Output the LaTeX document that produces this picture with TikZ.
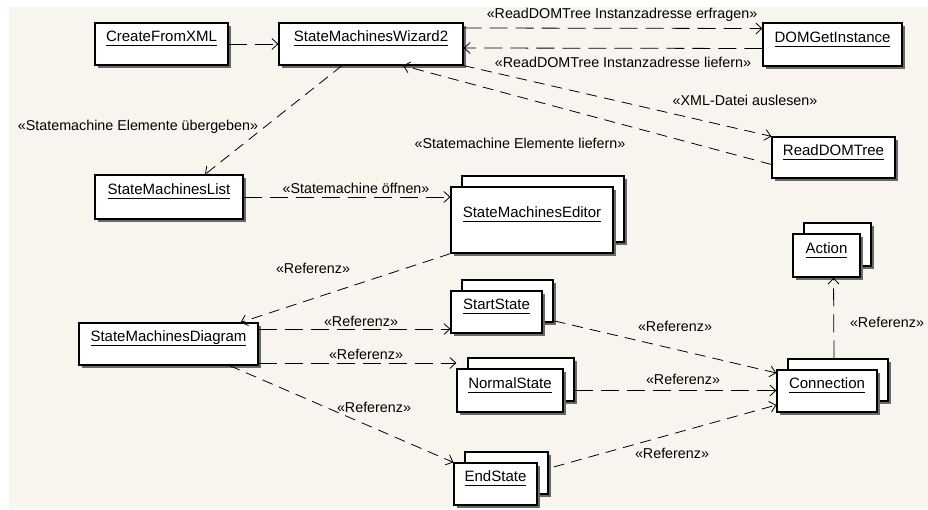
\documentclass[tikz,border=0pt]{standalone}
\usepackage{fontspec}
\setmainfont{Liberation Sans}
\usetikzlibrary{positioning}
\usetikzlibrary{arrows.meta}
\usetikzlibrary{shadows}

\definecolor{paper}{RGB}{247,245,237}
\definecolor{shade}{RGB}{105,105,105}

\newcommand{\objname}[1]{\underline{\smash{#1}\rule[-2.5pt]{0pt}{2.5pt}}}

\tikzset{
    objbox/.style={draw=black, fill=white, line width=1.2pt, inner sep=0pt,
        minimum height=42pt, font=\fontsize{15}{18}\selectfont,
        general shadow={shadow xshift=3pt, shadow yshift=-3pt, fill=shade}},
    multibox/.style={draw=black, fill=white, line width=1.2pt, inner sep=0pt,
        minimum height=42pt, font=\fontsize{15}{18}\selectfont,
        general shadow={shadow xshift=14pt, shadow yshift=8pt, fill=shade},
        general shadow={shadow xshift=11pt, shadow yshift=11pt, draw=black, fill=white, line width=1.2pt},
        general shadow={shadow xshift=3pt, shadow yshift=-3pt, fill=shade}},
    dep/.style={line width=0.8pt, dash pattern=on 11pt off 7pt,
        -{Straight Barb[length=6pt,width=11pt]}},
    longdash/.style={dash pattern=on 18pt off 8pt},
    lbl/.style={font=\fontsize{14.3}{17}\selectfont, inner sep=0pt},
}

\begin{document}
\begin{tikzpicture}[x=1pt, y=-1pt]
    \fill[white] (0,0) rectangle (928,510);
    \fill[paper] (9,7) rectangle (928,508);
    \useasboundingbox (0,0) rectangle (928,510);

    % objects
    \node[objbox, minimum width=133pt] (cfx) at (161.5,44) {\objname{CreateFromXML}};
    \node[objbox, minimum width=184pt] (wiz) at (371,44) {\objname{StateMachinesWizard2}};
    \node[objbox, minimum width=139pt, minimum height=43pt] (dom) at (832.5,44.5) {\objname{DOMGetInstance}};
    \node[objbox, minimum width=123pt, minimum height=41pt] (rdt) at (833.5,157.5) {\objname{ReadDOMTree}};
    \node[objbox, minimum width=148pt, minimum height=44pt] (sml) at (169,197) {\objname{StateMachinesList}};
    \node[objbox, minimum width=179pt] (smd) at (168.5,344) {\objname{StateMachinesDiagram}};

    \node[multibox, minimum width=162pt, minimum height=66pt] (sme) at (532,220) {\objname{StateMachinesEditor}};
    \node[multibox, minimum width=91pt] (start) at (496.5,312) {\objname{StartState}};
    \node[multibox, minimum width=106pt, minimum height=43pt] (normal) at (510,390.5) {\objname{NormalState}};
    \node[multibox, minimum width=83pt] (endst) at (495.5,484) {\objname{EndState}};
    \node[multibox, minimum width=100pt] (conn) at (827,391) {\objname{Connection}};
    \node[multibox, minimum width=67pt, minimum height=43pt] (act) at (826.5,255.5) {\objname{Action}};

    % dependencies
    \draw[dep, longdash] (cfx) -- (wiz);
    \draw[dep, longdash] ([yshift=16pt]wiz.east) -- ([yshift=16pt]dom.west);
    \draw[dep, longdash] ([yshift=-4pt]dom.west) -- ([yshift=-4pt]wiz.east);
    \draw[dep] (wiz.south east) -- (rdt.north west);
    \draw[dep] ([yshift=-7pt]rdt.west) -- ([xshift=32pt]wiz.south);
    \draw[dep] ([xshift=-29pt]wiz.south) -- ([xshift=36pt]sml.north);
    \draw[dep, longdash] (sml.east) -- (sml.east -| sme.west);
    \draw[dep] (sme.south west) -- ([xshift=-18pt]smd.north east);
    \draw[dep, longdash] ([yshift=15pt]smd.east) -- ([yshift=15pt]smd.east -| start.west);
    \draw[dep, longdash] ([yshift=-19pt]smd.east) -- ([yshift=-19pt]smd.east -| normal.west);
    \draw[dep] ([xshift=61pt]smd.south) -- (endst.north west);
    \draw[dep] ([xshift=12pt,yshift=-9pt]start.east) -- ([yshift=18pt]conn.west);
    \draw[dep, longdash] ([xshift=11pt]normal.east) -- (normal.east -| conn.west);
    \draw[dep] ([xshift=16pt,yshift=17pt]endst.east) -- ([yshift=-14pt]conn.west);
    \draw[dep, longdash] ([xshift=7pt,yshift=11pt]conn.north) -- ([xshift=7pt]act.south);

    % stereotypes
    \node[lbl] (lask) at (622,15) {«ReadDOMTree Instanzadresse erfragen»};
    \node[lbl] (lgive) at (623,62) {«ReadDOMTree Instanzadresse liefern»};
    \node[lbl] (lxml) at (745,100) {«XML-Datei auslesen»};
    \node[lbl] (lelem) at (520,143) {«Statemachine Elemente liefern»};
    \node[lbl] (lpass) at (138,127) {«Statemachine Elemente übergeben»};
    \node[lbl] (lopen) at (356,188) {«Statemachine öffnen»};
    \node[lbl] (lrefa) at (313,268) {«Referenz»};
    \node[lbl] (lrefb) at (361,321) {«Referenz»};
    \node[lbl] (lrefc) at (366,354) {«Referenz»};
    \node[lbl] (lrefd) at (374,407) {«Referenz»};
    \node[lbl] (lrefe) at (675,326) {«Referenz»};
    \node[lbl] (lreff) at (683,379) {«Referenz»};
    \node[lbl] (lrefg) at (672,453) {«Referenz»};
    \node[lbl] (lrefh) at (887,322) {«Referenz»};
\end{tikzpicture}
\end{document}
